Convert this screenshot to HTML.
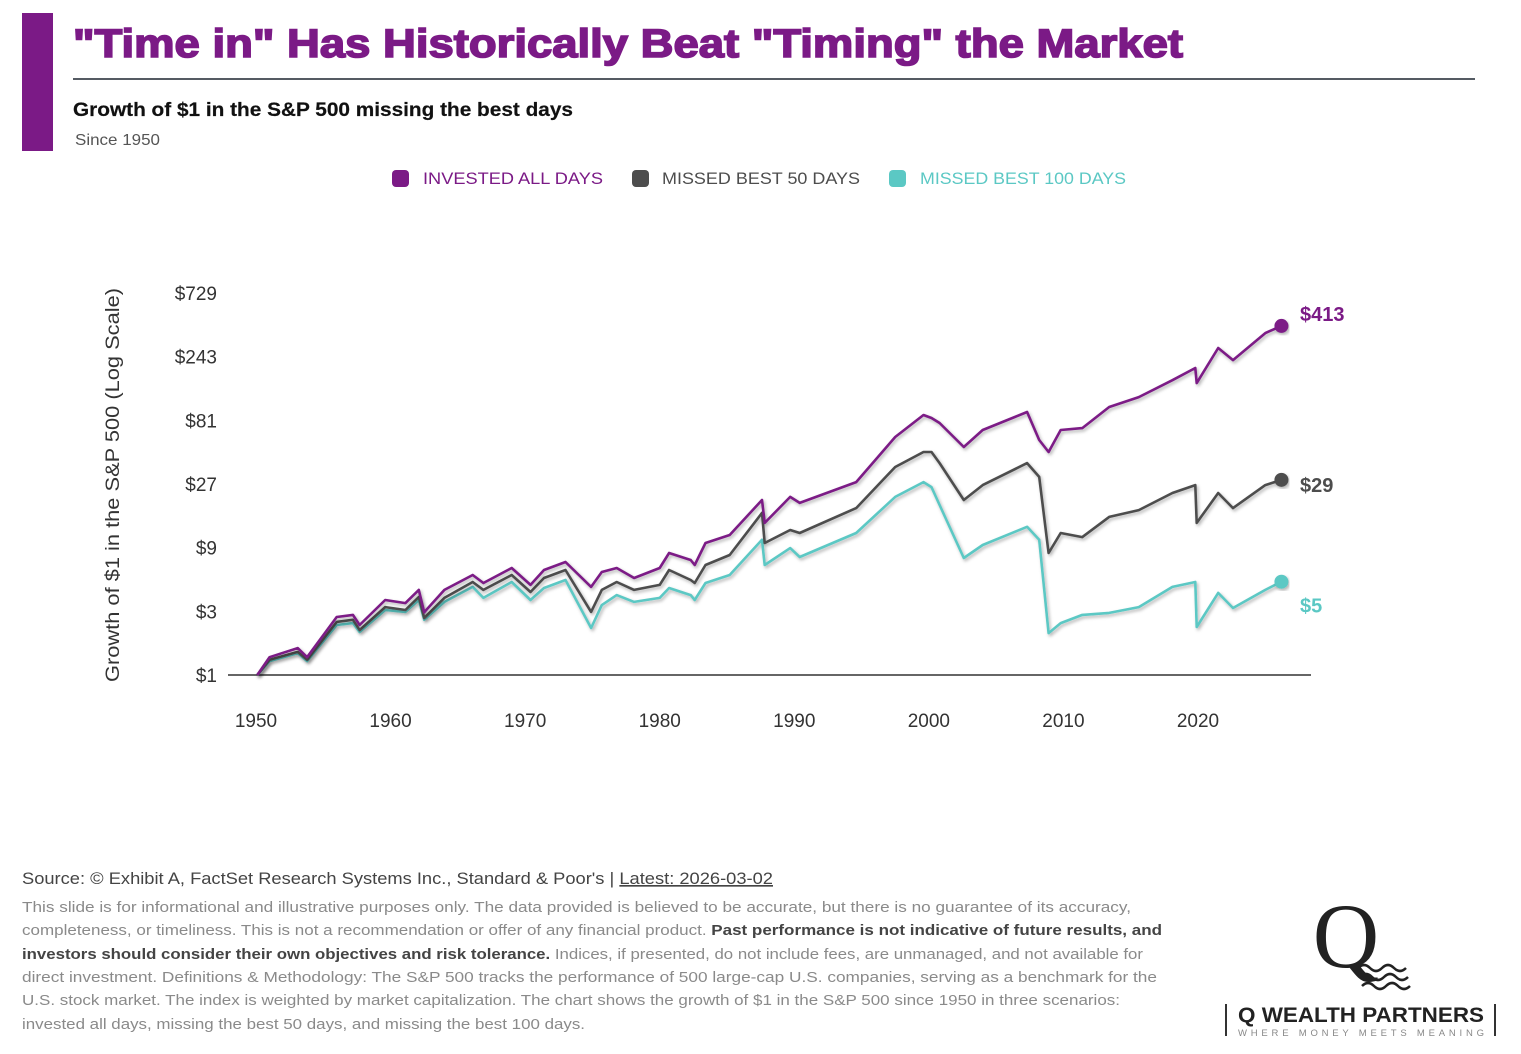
<!DOCTYPE html>
<html><head><meta charset="utf-8">
<style>
html,body{margin:0;padding:0;background:#fff;width:1521px;height:1054px;overflow:hidden}
svg{display:block}
text{font-family:"Liberation Sans",sans-serif}
</style></head>
<body>
<svg id="root" width="1521" height="1054" viewBox="0 0 1521 1054" xmlns="http://www.w3.org/2000/svg">
  <defs>
    <filter id="sh" x="-5%" y="-5%" width="110%" height="120%">
      <feDropShadow dx="1.5" dy="2" stdDeviation="1.5" flood-color="#000" flood-opacity="0.3"/>
    </filter>
  </defs>
  <rect x="22" y="13" width="31" height="138" fill="#7B1A86"/>
  <text x="73" y="57" font-size="40" font-weight="bold" fill="#7B1A86" stroke="#7B1A86" stroke-width="1.6" textLength="1110" lengthAdjust="spacingAndGlyphs">"Time in" Has Historically Beat "Timing" the Market</text>
  <line x1="73" y1="79" x2="1475" y2="79" stroke="#555b63" stroke-width="2"/>
  <text x="73" y="116" font-size="19" font-weight="bold" fill="#111" stroke="#111" stroke-width="0.2" textLength="500" lengthAdjust="spacingAndGlyphs">Growth of $1 in the S&amp;P 500 missing the best days</text>
  <text x="75" y="145" font-size="16" fill="#555" textLength="85" lengthAdjust="spacingAndGlyphs">Since 1950</text>

  <g>
    <g>
      <rect x="392" y="170" width="17" height="17" rx="4" fill="#7B1A86"/>
      <text x="423" y="184" font-size="16.5" fill="#7B1A86" textLength="180" lengthAdjust="spacingAndGlyphs">INVESTED ALL DAYS</text>
    </g>
    <g>
      <rect x="632" y="170" width="17" height="17" rx="4" fill="#4d4d4d"/>
      <text x="662" y="184" font-size="16.5" fill="#4d4d4d" textLength="198" lengthAdjust="spacingAndGlyphs">MISSED BEST 50 DAYS</text>
    </g>
    <g>
      <rect x="889" y="170" width="17" height="17" rx="4" fill="#5BC8C4"/>
      <text x="920" y="184" font-size="16.5" fill="#5BC8C4" textLength="206" lengthAdjust="spacingAndGlyphs">MISSED BEST 100 DAYS</text>
    </g>
  </g>

  <text transform="translate(119,485) rotate(-90)" text-anchor="middle" font-size="19" fill="#333" textLength="394" lengthAdjust="spacingAndGlyphs">Growth of $1 in the S&amp;P 500 (Log Scale)</text>

  <g id="yticks"></g>
  <g id="xticks"></g>
  <line x1="228" y1="675" x2="1311" y2="675" stroke="#333" stroke-width="1.5"/>
  <g id="series"></g>

  <text x="22" y="884" font-size="16.5" fill="#444" textLength="751" lengthAdjust="spacingAndGlyphs">Source: © Exhibit A, FactSet Research Systems Inc., Standard &amp; Poor's | <tspan text-decoration="underline">Latest: 2026-03-02</tspan></text>
  <g font-size="14.5" fill="#8a8a8a">
    <text x="22" y="912" textLength="1109" lengthAdjust="spacingAndGlyphs">This slide is for informational and illustrative purposes only. The data provided is believed to be accurate, but there is no guarantee of its accuracy,</text>
    <text x="22" y="935" textLength="1140" lengthAdjust="spacingAndGlyphs">completeness, or timeliness. This is not a recommendation or offer of any financial product. <tspan fill="#444" font-weight="bold">Past performance is not indicative of future results, and</tspan></text>
    <text x="22" y="959" textLength="1121" lengthAdjust="spacingAndGlyphs"><tspan fill="#444" font-weight="bold">investors should consider their own objectives and risk tolerance.</tspan> Indices, if presented, do not include fees, are unmanaged, and not available for</text>
    <text x="22" y="982" textLength="1135" lengthAdjust="spacingAndGlyphs">direct investment. Definitions &amp; Methodology: The S&amp;P 500 tracks the performance of 500 large-cap U.S. companies, serving as a benchmark for the</text>
    <text x="22" y="1005" textLength="1098" lengthAdjust="spacingAndGlyphs">U.S. stock market. The index is weighted by market capitalization. The chart shows the growth of $1 in the S&amp;P 500 since 1950 in three scenarios:</text>
    <text x="22" y="1029" textLength="563" lengthAdjust="spacingAndGlyphs">invested all days, missing the best 50 days, and missing the best 100 days.</text>
  </g>

  <g>
    <text x="1346" y="967" text-anchor="middle" style="font-family:'Liberation Serif',serif" font-size="92" fill="#222">Q</text>
    <g fill="none" stroke="#222" stroke-width="2.5">
      <path d="M1358 968 q6 -6 12 0 t12 0 t12 0 t12 0"/>
      <path d="M1360 977 q6 -6 12 0 t12 0 t12 0 t12 0"/>
      <path d="M1362 986 q6 -6 12 0 t12 0 t12 0 t12 0"/>
    </g>
    <rect x="1225" y="1004" width="2" height="32" fill="#333"/>
    <rect x="1494" y="1004" width="2" height="32" fill="#333"/>
    <text x="1238" y="1022" font-size="21" font-weight="bold" fill="#222" textLength="246" lengthAdjust="spacingAndGlyphs">Q WEALTH PARTNERS</text>
    <text x="1238" y="1036" font-size="9.5" fill="#888" textLength="246" lengthAdjust="spacing">WHERE MONEY MEETS MEANING</text>
  </g>
</svg>
<script>
const years = [1950.1,1951,1953.1,1953.8,1956,1957.2,1957.7,1959.6,1961.1,1962.1,1962.5,1964,1966.1,1966.9,1969,1970.4,1971.4,1973,1974.9,1975.7,1976.8,1978.1,1980,1980.7,1982.3,1982.6,1983.4,1985.2,1987.6,1987.8,1989.7,1990.4,1994.6,1997.5,1999.6,2000.2,2000.8,2002.6,2004,2007.3,2008.2,2008.9,2009.8,2011.4,2013.4,2015.6,2018.1,2019.8,2019.9,2021.5,2022.6,2025,2026.2];
const investedAll = [1,1.36,1.59,1.36,2.72,2.82,2.37,3.65,3.46,4.34,2.95,4.34,5.62,4.89,6.34,4.73,6.12,7.03,4.57,5.91,6.34,5.33,6.34,8.21,7.27,6.67,9.75,11.2,20.5,13.8,21.6,19.5,27.9,60.8,88.8,84.3,77.3,51.1,68.5,93.5,57.7,46.9,68.5,70.9,101.9,121,162,200,154,282,229,365,413];
const missed50 = [1,1.3,1.49,1.3,2.5,2.59,2.17,3.23,3.07,3.84,2.67,3.78,4.98,4.34,5.62,4.19,5.33,6.12,2.97,4.34,4.98,4.34,4.73,6.12,5.15,4.89,6.67,7.93,16.4,9.75,12.2,11.6,17.8,36.2,46.9,46.9,38.7,20.5,26.5,38.7,30.5,8.21,11.6,10.8,15.3,17.2,23.1,26.5,13.8,23.1,17.8,26.5,29];
const missed100 = [1,1.27,1.46,1.27,2.37,2.45,2.1,3.07,2.97,3.65,2.59,3.53,4.57,3.78,4.98,3.65,4.49,5.15,2.25,3.34,3.97,3.53,3.78,4.49,3.97,3.65,4.89,5.62,10.3,6.67,8.94,7.66,11.6,21.6,27.9,25.6,18.8,7.53,9.42,12.9,10.3,2.06,2.45,2.82,2.92,3.23,4.57,4.98,2.29,4.12,3.18,4.34,5];
const yTickValues = [1,3,9,27,81,243,729];
const yTickLabels = ["$1","$3","$9","$27","$81","$243","$729"];
const xTickValues = [1950,1960,1970,1980,1990,2000,2010,2020];
const endLabels = ["$413","$29","$5"];

const NS = "http://www.w3.org/2000/svg";
function xScale(yr){ return 256 + (yr - 1950) * (1198 - 256) / 70; }
function yScale(v){ return 675 - Math.log(v) / Math.log(3) * (382 / 6); }
function mk(tag, attrs, parent){ const e = document.createElementNS(NS, tag); for (const k in attrs) e.setAttribute(k, attrs[k]); parent.appendChild(e); return e; }

const yg = document.getElementById('yticks');
yTickValues.forEach((v, i) => {
  const t = mk('text', {x: 217, y: yScale(v) + 7, 'text-anchor': 'end', 'font-size': 19, fill: '#333'}, yg);
  
  
  t.textContent = yTickLabels[i];
});
const xg = document.getElementById('xticks');
xTickValues.forEach(yr => {
  const t = mk('text', {x: xScale(yr), y: 727, 'text-anchor': 'middle', 'font-size': 19, fill: '#333'}, xg);
  
  
  t.textContent = String(yr);
});

const sg = document.getElementById('series');
const seriesDefs = [
  {vals: missed100, color: '#5BC8C4', name: 'missed-100'},
  {vals: missed50, color: '#4d4d4d', name: 'missed-50'},
  {vals: investedAll, color: '#7B1A86', name: 'invested-all'}
];
seriesDefs.forEach((s, idx) => {
  const d = s.vals.map((v, i) => (i ? 'L' : 'M') + xScale(years[i]).toFixed(1) + ' ' + yScale(v).toFixed(1)).join(' ');
  const p = mk('path', {d: d, fill: 'none', stroke: s.color, 'stroke-width': 2.6, 'stroke-linejoin': 'round', filter: 'url(#sh)'}, sg);
  
  
  const last = s.vals.length - 1;
  const c = mk('circle', {cx: xScale(years[last]), cy: yScale(s.vals[last]), r: 7, fill: s.color, filter: 'url(#sh)'}, sg);
  
  
});
const labelSeries = [investedAll, missed50, missed100];
const labelColors = ['#7B1A86', '#4d4d4d', '#5BC8C4'];
const labelDy = [-5, 12, 31];
labelSeries.forEach((vals, i) => {
  const last = vals.length - 1;
  const t = mk('text', {x: 1300, y: yScale(vals[last]) + labelDy[i], 'font-size': 20, 'font-weight': 'bold', fill: labelColors[i]}, sg);
  
  
  t.textContent = endLabels[i];
});
</script>
</body></html>
